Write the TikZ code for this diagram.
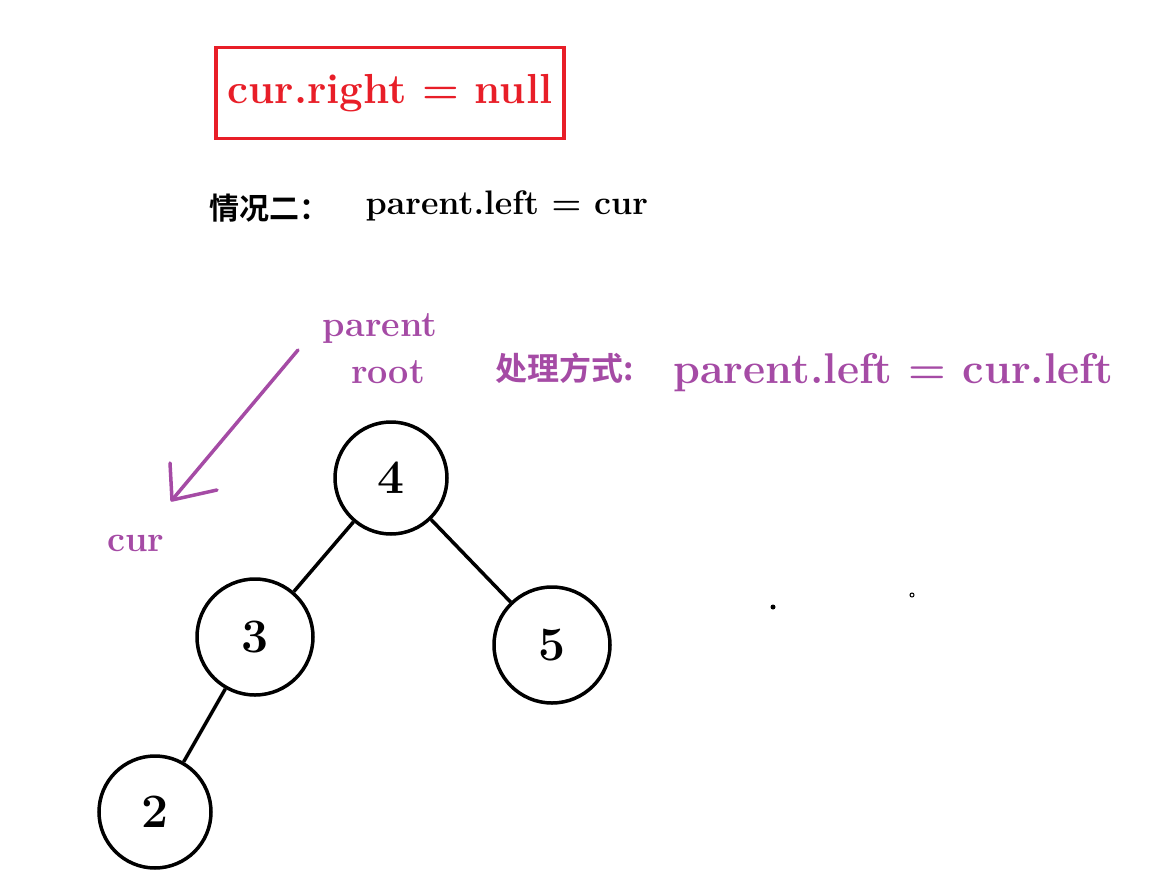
\documentclass[tikz,border=0pt]{standalone}
\usepackage{fontspec}
\newfontfamily\cjk{Noto Sans CJK SC}[BoldFont={Noto Sans CJK SC Bold}]
\definecolor{pur}{RGB}{165,75,165}
\definecolor{rd}{RGB}{232,30,40}
\begin{document}
\begin{tikzpicture}[x=1pt,y=-1pt,
  tn/.style={circle,draw,line width=3.5pt,minimum size=112pt,inner sep=0pt,font=\fontsize{48}{48}\selectfont\bfseries},
  ed/.style={line width=3.5pt},
  pt/.style={text=pur,font=\fontsize{36}{36}\selectfont\bfseries}]
\useasboundingbox (0,0) rectangle (1176,881);
\node[draw=rd,line width=3.5pt,minimum width=348pt,minimum height=91pt,text=rd,font=\fontsize{42}{42}\selectfont\bfseries] (box) at (390,93) {cur.right = null};
\node[anchor=west,font=\fontsize{30}{30}\selectfont\bfseries] (zh) at (206,208) {\cjk\bfseries 情况二：};
\node[anchor=west,font=\fontsize{34}{34}\selectfont\bfseries] (case) at (362,206) {parent.left = cur};
\node[pt] (par) at (380,329) {parent};
\node[pt] (root) at (388,372) {root};
\node[pt,anchor=west,font=\fontsize{32}{32}\selectfont\bfseries] (way) at (492,368) {\cjk\bfseries 处理方式:};
\node[pt,anchor=west,font=\fontsize{43}{43}\selectfont\bfseries] (eq) at (670,373) {parent.left = cur.left};
\node[pt] (cur) at (136,543) {cur};
\coordinate (a1) at (298,350);
\coordinate (a2) at (172,500);
\draw[pur,line width=3.5pt,line cap=round] (a1) -- (a2);
\draw[pur,line width=3.5pt,line cap=round,line join=round] (170,463) -- (a2) -- (217,490);
\node[tn] (n4) at (391,478) {4};
\node[tn,minimum size=116pt] (n3) at (255,637) {3};
\node[tn,minimum size=116pt] (n5) at (552,645) {5};
\node[tn] (n2) at (155,812) {2};
\draw[ed] (n4) -- (n3);
\draw[ed] (n4) -- (n5);
\draw[ed] (n3) -- (n2);
\fill (773,607) circle (2.5pt);
\draw[line width=1pt] (912,595) circle (2pt);
\end{tikzpicture}
\end{document}
